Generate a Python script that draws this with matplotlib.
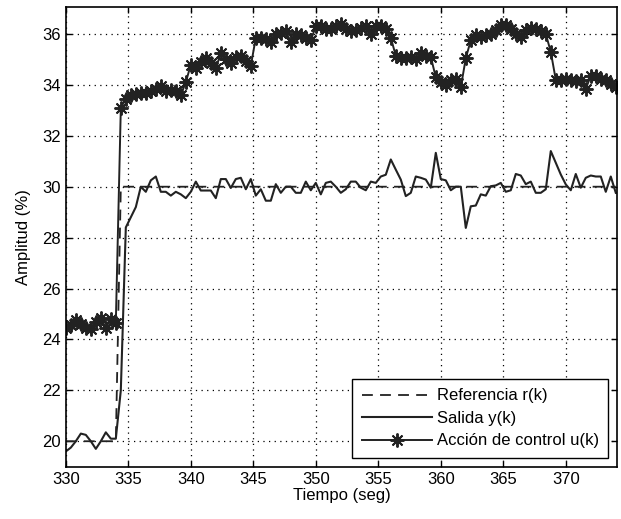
import numpy as np
import matplotlib
matplotlib.use("Agg")
import matplotlib.pyplot as plt

t_start = 330.0
dt = 0.4
n = 111
time = t_start + dt * np.arange(n)

referencia = [20.0] * 11 + [30.0] * 100

salida = [19.6, 19.75, 20.0, 20.3, 20.25, 20.0, 19.7, 20.0, 20.35, 20.1,
          20.1, 22.0, 28.4, 28.8, 29.2, 30.0, 29.8, 30.25, 30.4, 29.8,
          29.8, 29.65, 29.8, 29.7, 29.55, 29.8, 30.2, 29.85, 29.85, 29.85,
          29.55, 30.3, 30.3, 29.95, 30.3, 30.35, 29.9, 30.3, 29.65, 29.9,
          29.45, 29.45, 30.1, 29.76, 30.0, 30.0, 29.76, 29.76, 30.2, 29.86,
          30.15, 29.7, 30.15, 30.2, 30.0, 29.76, 29.9, 30.2, 30.2, 29.96,
          29.86, 30.2, 30.15, 30.4, 30.47, 31.07, 30.67, 30.28, 29.63, 29.76,
          30.4, 30.35, 30.28, 29.96, 31.33, 30.3, 30.25, 29.86, 30.0, 30.0,
          28.38, 29.23, 29.26, 29.7, 29.65, 30.02, 30.05, 30.15, 29.8, 29.86,
          30.5, 30.44, 30.1, 30.2, 29.76, 29.76, 29.9, 31.4, 30.94, 30.48,
          30.09, 29.86, 30.5, 29.96, 30.35, 30.44, 30.4, 30.4, 29.8, 30.4,
          29.76]

control = [24.45, 24.55, 24.75, 24.6, 24.45, 24.4, 24.7, 24.85, 24.45, 24.8,
           24.65, 33.1, 33.45, 33.6, 33.65, 33.7, 33.7, 33.75, 33.85, 33.95,
           33.75, 33.8, 33.75, 33.6, 34.1, 34.8, 34.65, 34.9, 35.05, 34.85,
           34.65, 35.25, 35.0, 34.85, 35.1, 35.15, 34.95, 34.75, 35.85, 35.85,
           35.8, 35.7, 36.0, 36.05, 36.1, 35.7, 36.0, 35.95, 35.85, 35.75,
           36.3, 36.3, 36.2, 36.2, 36.3, 36.4, 36.2, 36.1, 36.15, 36.25,
           36.3, 36.0, 36.3, 36.3, 36.2, 35.85, 35.15, 35.05, 35.05, 35.1,
           35.0, 35.25, 35.15, 35.1, 34.3, 34.1, 34.0, 34.2, 34.25, 33.9,
           35.05, 35.75, 35.95, 35.9, 35.95, 36.0, 36.15, 36.35, 36.35, 36.2,
           36.0, 35.9, 36.15, 36.25, 36.2, 36.1, 36.0, 35.3, 34.2, 34.2,
           34.25, 34.2, 34.15, 34.2, 33.85, 34.35, 34.35, 34.25, 34.2, 34.05,
           33.9]

xticks = [330, 335, 340, 345, 350, 355, 360, 365, 370]
yticks = [20, 22, 24, 26, 28, 30, 32, 34, 36]

plt.rcParams['font.family'] = ['Liberation Sans', 'DejaVu Sans']
plt.rcParams['font.size'] = 12

fig = plt.figure(figsize=(6.21, 5.19), dpi=100)
ax = fig.add_axes([0.106, 0.1008, 0.8876, 0.8857])

ax.plot(time, referencia, color='#222222', linestyle=(0, (6, 4)), linewidth=1.3,
        label='Referencia r(k)')
ax.plot(time, salida, color='#222222', linestyle='-', linewidth=1.5,
        label='Salida y(k)')
ax.plot(time, control, color='#222222', linestyle='-', linewidth=1.4,
        marker=(8, 2, 0), markersize=10, markeredgewidth=1.4,
        label='Acción de control u(k)')

ax.set_xlim(330, 374.1)
ax.set_ylim(19, 37.06)
ax.set_xticks(xticks)
ax.set_yticks(yticks)
ax.grid(True, color='black', linestyle=(0, (1, 3.5)), linewidth=0.9)
ax.tick_params(direction='in', top=True, right=True, length=4, width=1,
               labelsize=12, colors='black')
for s in ax.spines.values():
    s.set_linewidth(1.2)
    s.set_color('black')

ax.set_xlabel('Tiempo (seg)', fontsize=12, labelpad=1)
ax.set_ylabel('Amplitud (%)', fontsize=12, labelpad=8)

leg = ax.legend(loc='lower right', fontsize=12, frameon=True, fancybox=False,
                edgecolor='black', framealpha=1, borderaxespad=0.55,
                handlelength=4.2, labelspacing=0.45, borderpad=0.55,
                handletextpad=0.3)
leg.get_frame().set_linewidth(1.0)

fig.savefig('out.png', dpi=100)
